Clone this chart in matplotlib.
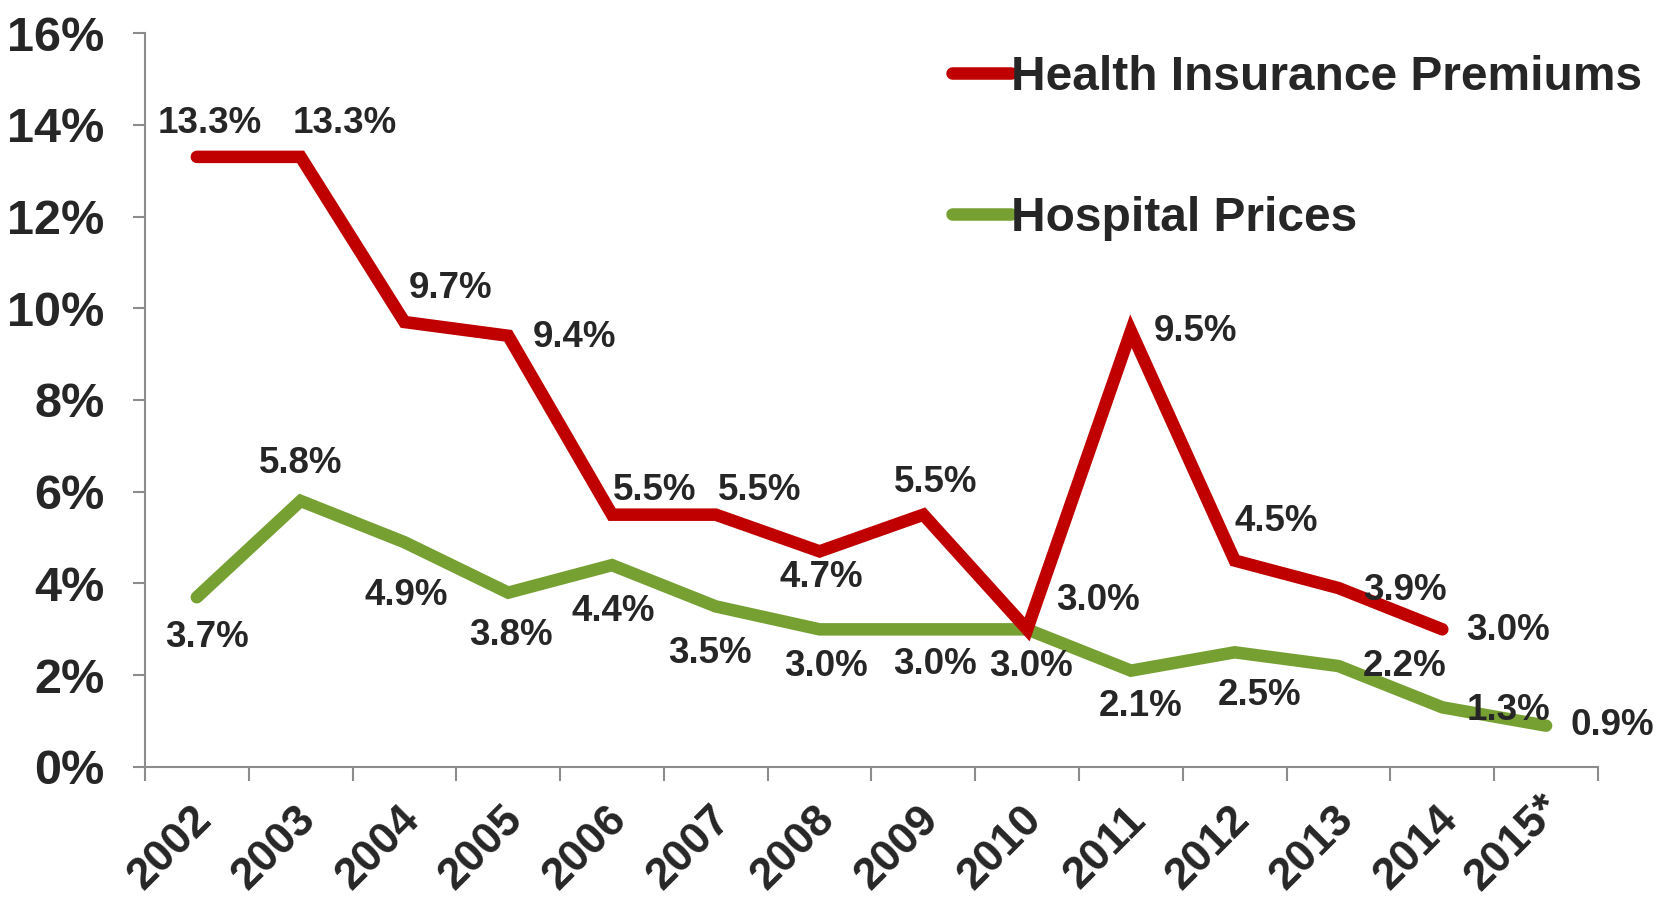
import matplotlib
matplotlib.use("Agg")
import matplotlib.pyplot as plt
from matplotlib.ticker import FixedLocator, FuncFormatter
from matplotlib.transforms import ScaledTranslation

years = ["2002", "2003", "2004", "2005", "2006", "2007", "2008",
         "2009", "2010", "2011", "2012", "2013", "2014", "2015*"]
premiums = [13.3, 13.3, 9.7, 9.4, 5.5, 5.5, 4.7, 5.5, 3.0, 9.5, 4.5, 3.9, 3.0]
hospital = [3.7, 5.8, 4.9, 3.8, 4.4, 3.5, 3.0, 3.0, 3.0, 2.1, 2.5, 2.2, 1.3, 0.9]

# label offsets in pixels (dx, dy) from each point
prem_off = [(13, 33), (44, 33), (46, 34), (66, -2), (43, 24), (44, 24), (2, -26),
            (12, 32), (71, 29), (65, 0), (42, 39), (66, -2), (66, -1)]
hosp_off = [(10, -40), (0, 37), (2, -53), (3, -43), (1, -46), (-6, -47), (6, -37),
            (12, -35), (4, -37), (10, -36), (25, -43), (66, 0), (66, -3), (66, 0)]

RED = "#C00000"
GREEN = "#77A033"
TXT = "#262626"
AX = "#8C8C8C"

plt.rcParams["font.family"] = ["Liberation Sans", "DejaVu Sans"]

fig = plt.figure(figsize=(16.62, 9.02), dpi=100)
ax = fig.add_axes([0.0872, 0.1497, 0.8743, 0.8137])

xp = [i + 0.5 for i in range(len(premiums))]
xh = [i + 0.5 for i in range(len(hospital))]

l1, = ax.plot(xp, premiums, color=RED, lw=9, solid_capstyle="round",
              solid_joinstyle="miter", label="Health Insurance Premiums", zorder=3)
l2, = ax.plot(xh, hospital, color=GREEN, lw=9, solid_capstyle="round",
              solid_joinstyle="miter", label="Hospital Prices", zorder=2)

for x, v, (dx, dy) in zip(xp, premiums, prem_off):
    ax.annotate(f"{v:.1f}%", (x, v), xytext=(dx, dy), textcoords="offset pixels",
                ha="center", va="center", fontsize=26.5, fontweight="bold",
                color=TXT, zorder=5)
for x, v, (dx, dy) in zip(xh, hospital, hosp_off):
    ax.annotate(f"{v:.1f}%", (x, v), xytext=(dx, dy), textcoords="offset pixels",
                ha="center", va="center", fontsize=26.5, fontweight="bold",
                color=TXT, zorder=5)

ax.set_xlim(0, len(years))
ax.set_ylim(0, 16)
ax.set_yticks(range(0, 17, 2))
ax.yaxis.set_major_formatter(FuncFormatter(lambda y, _: f"{y:.0f}%"))

ax.xaxis.set_major_locator(FixedLocator(range(len(years) + 1)))
ax.xaxis.set_major_formatter(FuncFormatter(lambda x, _: ""))
ax.xaxis.set_minor_locator(FixedLocator(xh))
ax.set_xticklabels(years, minor=True, rotation=45, ha="right", va="top",
                   rotation_mode="anchor", fontsize=32, fontweight="bold", color=TXT)
ax.tick_params(axis="x", which="minor", length=0, pad=23)
ax.tick_params(axis="x", which="major", length=10, width=1.5, color=AX, direction="out")
ax.tick_params(axis="y", length=9, width=1.5, color=AX, direction="out", pad=20,
               labelsize=35, labelcolor=TXT)
for lab in ax.get_yticklabels():
    lab.set_fontweight("bold")
xlabs = ax.get_xticklabels(minor=True)
for i, lab in enumerate(xlabs):
    up = 0.12 if i == len(xlabs) - 1 else 0.0
    lab.set_transform(lab.get_transform() + ScaledTranslation(-0.06, up, fig.dpi_scale_trans))

for s in ["top", "right"]:
    ax.spines[s].set_visible(False)
for s in ["left", "bottom"]:
    ax.spines[s].set_color(AX)
    ax.spines[s].set_linewidth(1.5)

leg = fig.legend(handles=[l1, l2], loc="upper left", bbox_to_anchor=(0.561, 0.96),
                 frameon=False, fontsize=34.5, handlelength=1.25, handletextpad=0.0,
                 labelspacing=2.0, borderaxespad=0)
for t in leg.get_texts():
    t.set_fontweight("bold")
    t.set_color(TXT)

fig.savefig("out.png", dpi=100, facecolor="white")
